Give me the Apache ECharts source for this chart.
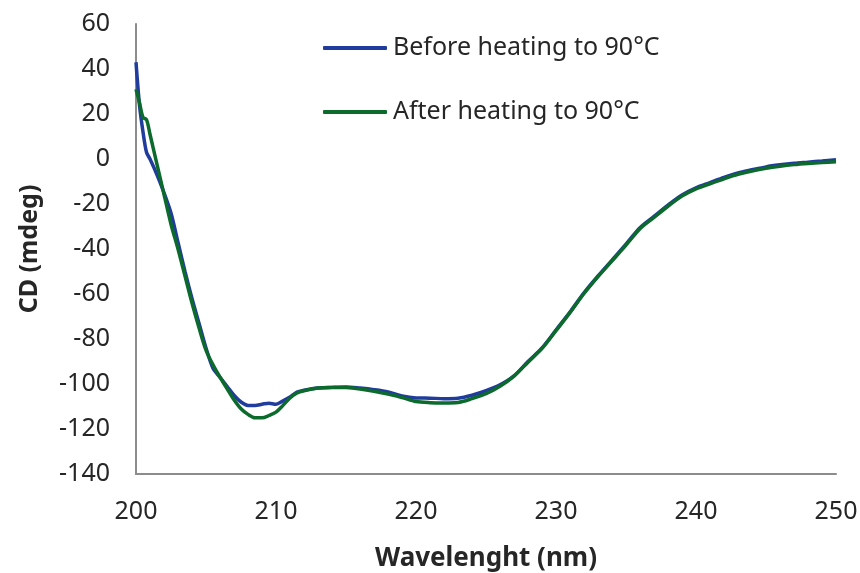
<!DOCTYPE html>
<html>
<head>
<meta charset="utf-8">
<script src="https://cdn.jsdelivr.net/npm/echarts@6/dist/echarts.min.js"></script>
<style>
  html, body { margin: 0; padding: 0; background: #fff; }
  #chart { width: 860px; height: 573px; }
</style>
</head>
<body>
<div id="chart"></div>
<script>
// wavelength (nm) sampling points
var wavelengths = [200, 200.25, 200.5, 200.75, 201, 201.5, 202, 202.5, 203, 203.5, 204, 204.5, 205, 205.5,
  206, 206.5, 207, 207.5, 208, 208.5, 209, 209.5, 210, 210.5, 211, 211.5, 212, 213, 214, 215, 216, 217,
  218, 219, 220, 221, 222, 223, 224, 225, 226, 227, 228, 229, 230, 231, 232, 233, 234, 235, 236, 237,
  238, 239, 240, 241, 242, 243, 244, 245, 246, 247, 248, 249, 250];

// CD (mdeg), before heating
var beforeHeating = [43, 24, 12, 3, 0, -7, -15, -24, -37, -50, -62, -73, -84, -93,
  -97, -101, -105, -108, -109.5, -109.5, -109, -108.5, -109, -107.5, -105.8, -103.6, -102.8, -101.8, -101.5, -101.3, -101.8, -102.5,
  -103.5, -105.3, -106.2, -106.3, -106.5, -106.3, -105, -103, -100.4, -96.4, -90, -84, -76, -68, -59.5, -52,
  -45, -37.8, -30.5, -25.5, -20.5, -16, -12.8, -10.5, -8.2, -6.2, -4.8, -3.5, -2.6, -1.9, -1.4, -0.9, -0.3];

// CD (mdeg), after heating
var afterHeating = [31, 25, 18.5, 17.5, 11, -2.4, -15.7, -29, -40, -52, -64, -75, -85, -91.5,
  -97, -102, -107, -111, -113.5, -115, -115, -114, -112.5, -109.5, -106.2, -104, -103, -101.8, -101.5, -101.6, -102.2, -103.2,
  -104.5, -106, -107.8, -108.3, -108.4, -108.2, -106.5, -104.3, -101, -96.5, -90.3, -84.2, -76.3, -68.3, -59.8, -52.3,
  -45.3, -38.3, -31, -26, -21, -16.5, -13.3, -11, -8.8, -6.8, -5.3, -4.1, -3.2, -2.5, -2, -1.6, -1.2];

var seriesNames = ['Before heating to 90°C', 'After heating to 90°C'];
var seriesColors = ['#203c9c', '#0b6a2c'];

function pairs(xs, ys) {
    return xs.map(function (x, i) { return [x, ys[i]]; });
}

var chart = echarts.init(document.getElementById('chart'), null, { renderer: 'canvas' });

var textColor = '#262626';
var font = 'Noto Sans';

chart.setOption({
    animation: false,
    backgroundColor: '#fff',
    grid: { left: 136, right: 24, top: 24, bottom: 99, outerBoundsMode: 'none' },
    legend: {
        orient: 'vertical',
        left: 318,
        top: 26,
        icon: 'roundRect',
        itemWidth: 64,
        itemHeight: 4,
        itemGap: 30,
        textStyle: { color: textColor, fontSize: 25, fontFamily: font, lineHeight: 34, padding: [0, 0, 0, 1] },
        data: seriesNames
    },
    xAxis: {
        type: 'value',
        min: 200,
        max: 250,
        interval: 10,
        name: 'Wavelenght (nm)',
        nameLocation: 'middle',
        nameGap: 72,
        nameTextStyle: { color: textColor, fontSize: 26, fontWeight: 'bold', fontFamily: font },
        axisLine: { show: true, onZero: false, lineStyle: { color: '#8c8c8c', width: 2 } },
        axisTick: { show: false },
        splitLine: { show: false },
        axisLabel: { color: textColor, fontSize: 25, fontFamily: font, margin: 25 }
    },
    yAxis: {
        type: 'value',
        min: -140,
        max: 60,
        interval: 20,
        name: 'CD (mdeg)',
        nameLocation: 'middle',
        nameRotate: 90,
        nameGap: 94,
        nameTextStyle: { color: textColor, fontSize: 25, fontWeight: 'bold', fontFamily: font },
        axisLine: { show: true, lineStyle: { color: '#8c8c8c', width: 2 } },
        axisTick: { show: false },
        splitLine: { show: false },
        axisLabel: { color: textColor, fontSize: 25, fontFamily: font, margin: 26 }
    },
    series: [
        {
            name: seriesNames[0],
            type: 'line',
            symbol: 'none',
            smooth: 0.3,
            color: seriesColors[0],
            lineStyle: { width: 3.5, color: seriesColors[0] },
            data: pairs(wavelengths, beforeHeating)
        },
        {
            name: seriesNames[1],
            type: 'line',
            symbol: 'none',
            smooth: 0.3,
            color: seriesColors[1],
            lineStyle: { width: 3.5, color: seriesColors[1] },
            data: pairs(wavelengths, afterHeating)
        }
    ]
});
</script>
</body>
</html>
